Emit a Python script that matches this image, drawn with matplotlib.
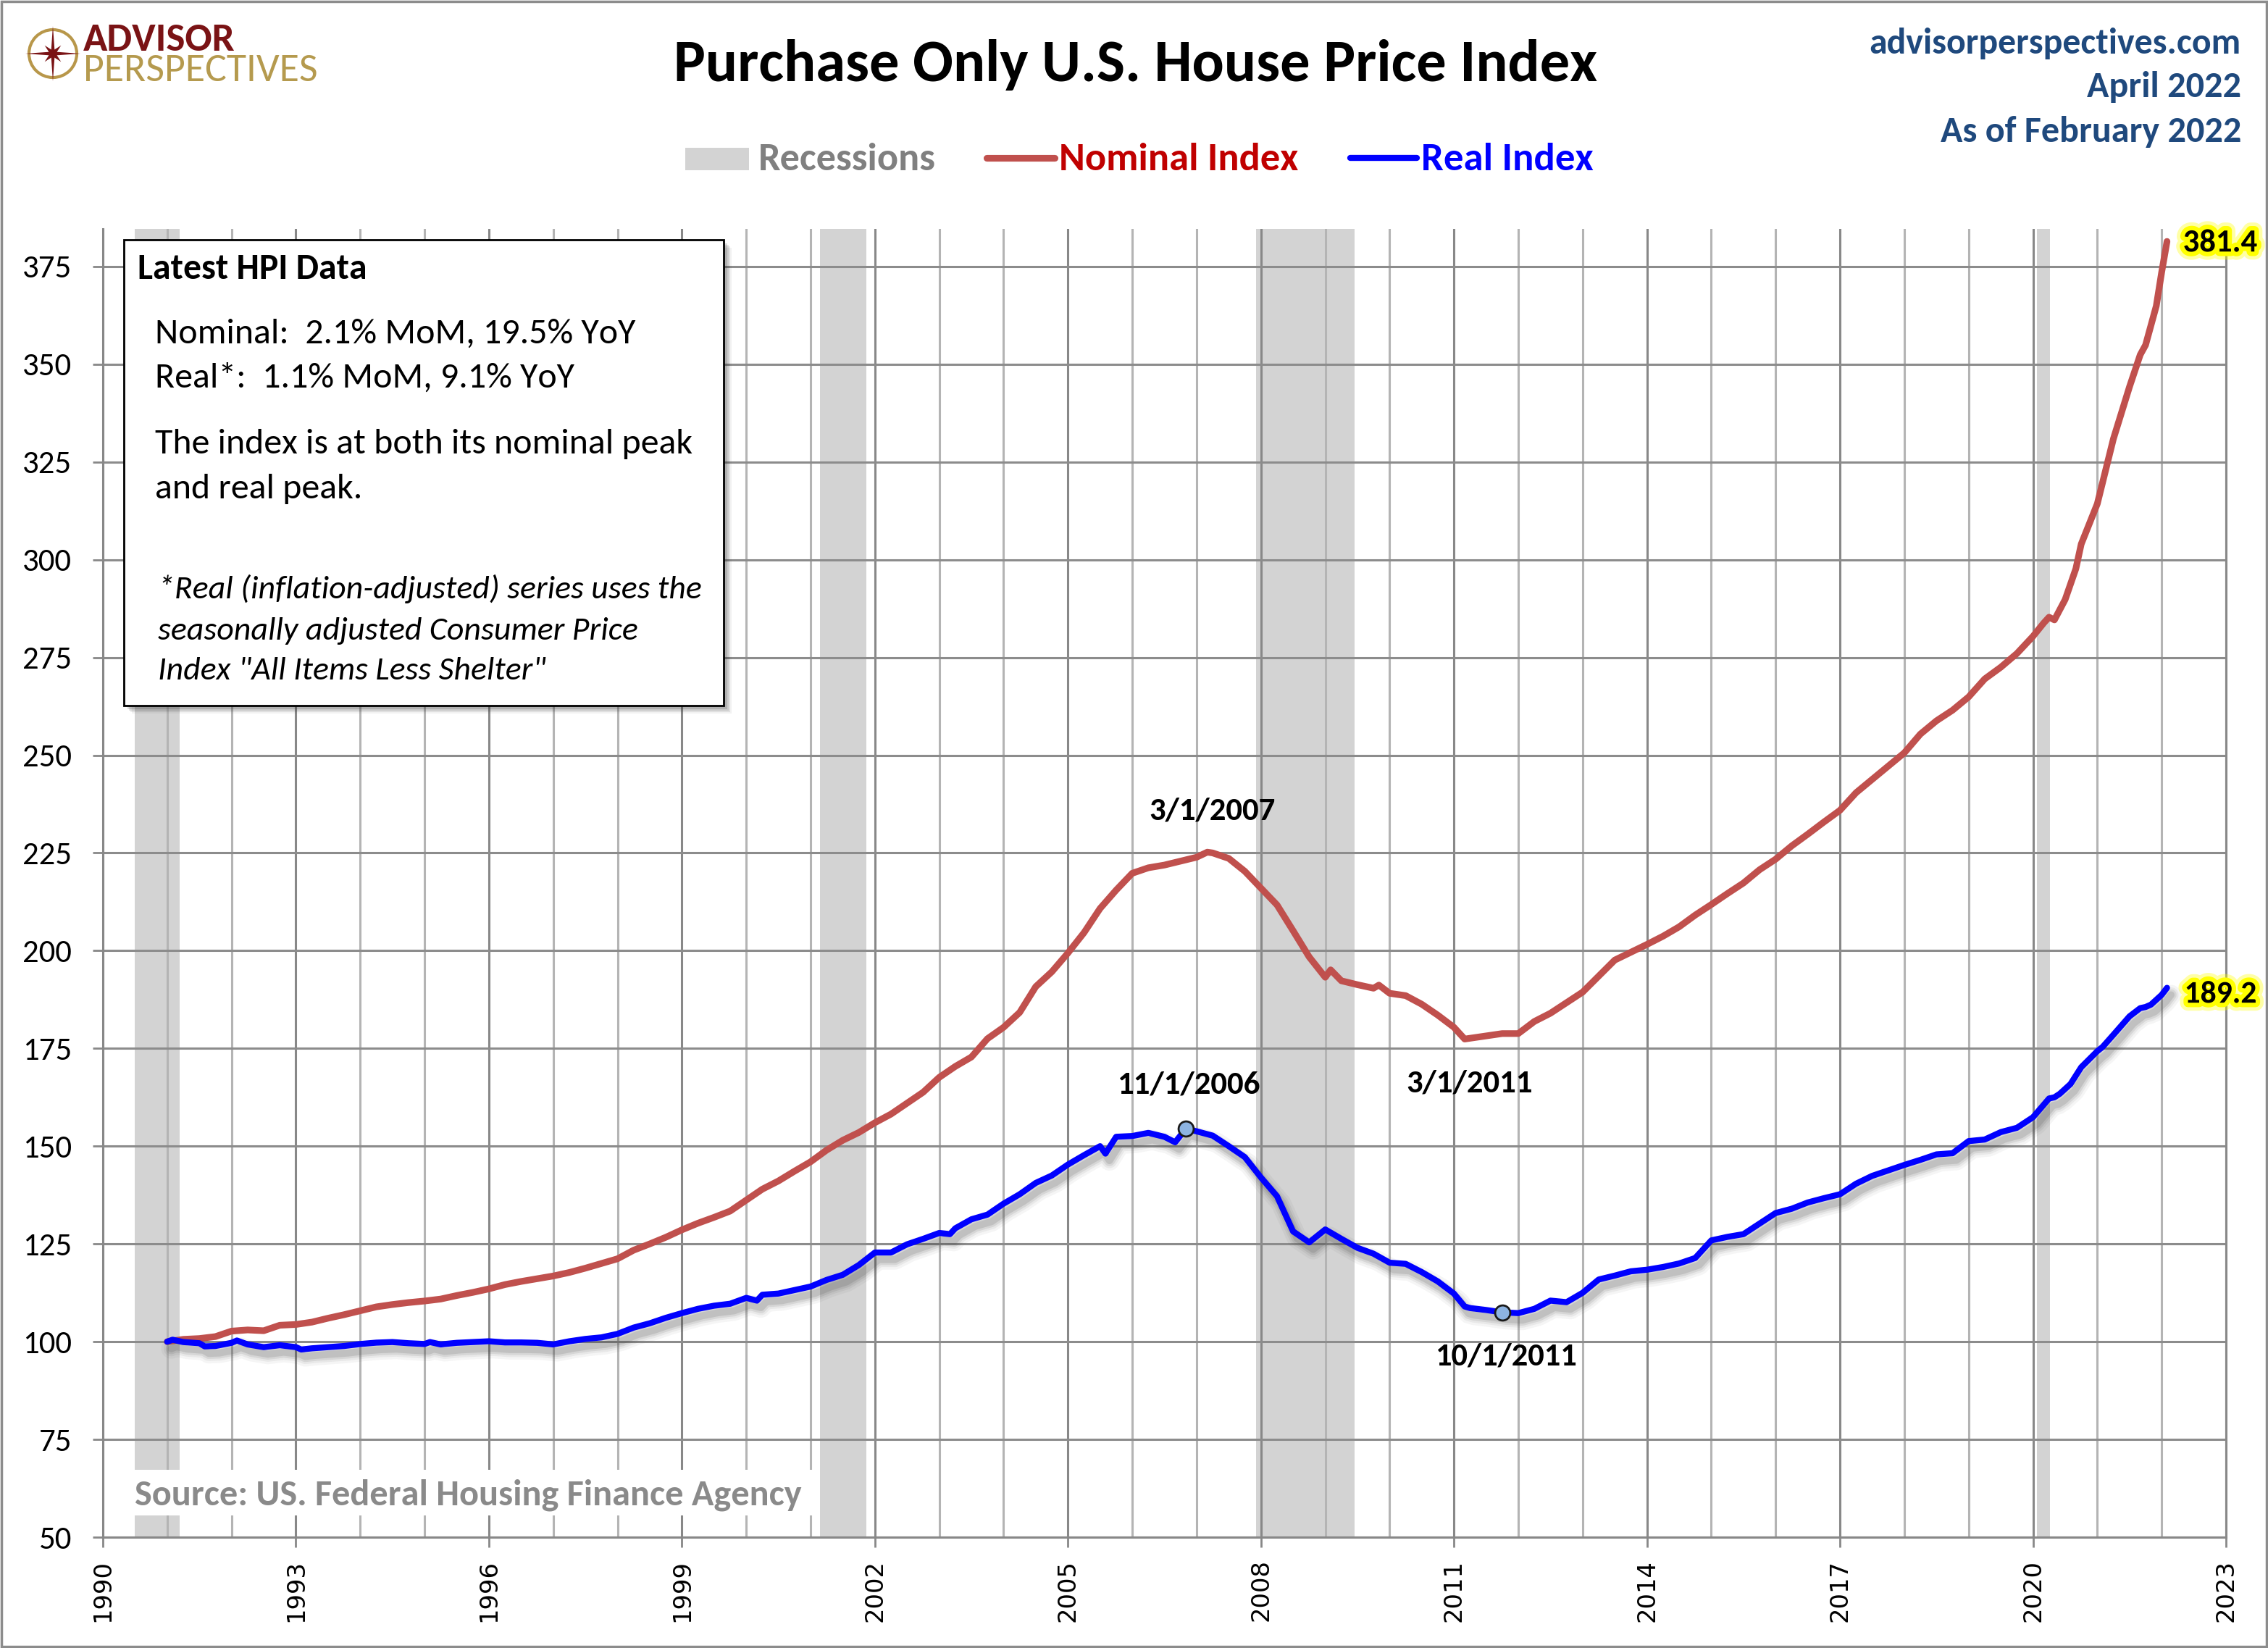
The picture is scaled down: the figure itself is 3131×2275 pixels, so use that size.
import matplotlib
matplotlib.use('Agg')
import matplotlib.pyplot as plt
from matplotlib import font_manager as fm
import matplotlib.patheffects as pe
from matplotlib.patches import Rectangle, Polygon, Ellipse
from matplotlib.lines import Line2D
import numpy as np

# ---------------- data ----------------
nominal_dates = ["1991-01","1991-04","1991-07","1991-10","1992-01","1992-04","1992-07","1992-10",
    "1993-01","1993-04","1993-07","1993-10","1994-01","1994-04","1994-07","1994-10",
    "1995-01","1995-04","1995-07","1995-10","1996-01","1996-04","1996-07","1996-10",
    "1997-01","1997-04","1997-07","1997-10","1998-01","1998-04","1998-07","1998-10",
    "1999-01","1999-04","1999-07","1999-10","2000-01","2000-04","2000-07","2000-10",
    "2001-01","2001-04","2001-07","2001-10","2002-01","2002-04","2002-07","2002-10",
    "2003-01","2003-04","2003-07","2003-10","2004-01","2004-04","2004-07","2004-10",
    "2005-01","2005-04","2005-07","2005-10","2006-01","2006-04","2006-07","2006-10",
    "2007-01","2007-03","2007-04","2007-07","2007-10","2008-01","2008-04","2008-07","2008-10",
    "2009-01","2009-02","2009-04","2009-07","2009-10","2009-11","2010-01","2010-04","2010-07","2010-10",
    "2011-01","2011-03","2011-04","2011-07","2011-10","2012-01","2012-04","2012-07","2012-10",
    "2013-01","2013-04","2013-07","2013-10","2014-01","2014-04","2014-07","2014-10",
    "2015-01","2015-04","2015-07","2015-10","2016-01","2016-04","2016-07","2016-10",
    "2017-01","2017-04","2017-07","2017-10","2018-01","2018-04","2018-07","2018-10",
    "2019-01","2019-04","2019-07","2019-10","2020-01","2020-03","2020-04","2020-05","2020-07",
    "2020-09","2020-10","2021-01","2021-04","2021-07","2021-09","2021-10","2021-12","2022-01","2022-02"]
nominal_values = [100.0,100.6,100.8,101.3,102.7,103.0,102.8,104.2,
    104.4,105.0,106.0,106.9,107.9,108.9,109.5,110.0,
    110.4,110.9,111.8,112.6,113.5,114.6,115.4,116.1,
    116.8,117.7,118.8,120.0,121.2,123.4,125.0,126.7,
    128.6,130.3,131.8,133.4,136.2,139.0,141.1,143.6,
    146.0,149.0,151.5,153.5,156.0,158.2,161.0,163.8,
    167.6,170.4,172.8,177.5,180.4,184.2,190.8,194.6,
    199.4,204.6,210.8,215.5,219.8,221.2,221.9,222.9,
    223.9,225.2,225.0,223.6,220.3,216.0,211.7,205.1,198.4,
    193.2,195.1,192.3,191.3,190.4,191.2,189.1,188.5,186.3,183.5,
    180.4,177.4,177.6,178.2,178.8,178.8,181.9,184.0,186.7,
    189.4,193.5,197.6,199.6,201.6,203.7,206.1,209.1,
    211.8,214.6,217.3,220.7,223.4,226.8,229.8,232.9,
    235.9,240.4,243.8,247.2,250.6,255.4,258.8,261.5,
    264.9,269.5,272.5,276.0,280.4,283.8,285.3,284.6,289.8,
    297.7,304.0,314.3,330.9,344.2,352.4,354.9,364.9,373.5,381.4]

real_dates = ["1991-01","1991-02","1991-04","1991-07","1991-08","1991-10","1992-01","1992-02","1992-04",
    "1992-07","1992-10","1993-01","1993-02","1993-04","1993-07","1993-10","1994-01","1994-04",
    "1994-07","1994-10","1995-01","1995-02","1995-04","1995-07","1995-10","1996-01","1996-04",
    "1996-07","1996-10","1997-01","1997-04","1997-07","1997-10","1998-01","1998-04","1998-07",
    "1998-10","1999-01","1999-04","1999-07","1999-10","2000-01","2000-03","2000-04","2000-07",
    "2000-10","2001-01","2001-04","2001-07","2001-10","2002-01","2002-04","2002-07","2002-10",
    "2003-01","2003-03","2003-04","2003-07","2003-10","2004-01","2004-04","2004-07","2004-10",
    "2005-01","2005-04","2005-07","2005-08","2005-10","2006-01","2006-04","2006-07","2006-09",
    "2006-11","2007-01","2007-04","2007-07","2007-10","2008-01","2008-04","2008-07","2008-10",
    "2009-01","2009-04","2009-07","2009-10","2010-01","2010-04","2010-07","2010-10","2011-01",
    "2011-03","2011-04","2011-07","2011-10","2012-01","2012-04","2012-07","2012-10","2013-01",
    "2013-04","2013-07","2013-10","2014-01","2014-04","2014-07","2014-10","2015-01","2015-04",
    "2015-07","2015-10","2016-01","2016-04","2016-07","2016-10","2017-01","2017-04","2017-07",
    "2017-10","2018-01","2018-04","2018-07","2018-10","2019-01","2019-04","2019-07","2019-10",
    "2020-01","2020-04","2020-05","2020-06","2020-08","2020-10","2021-01","2021-02","2021-04",
    "2021-07","2021-09","2021-10","2021-11","2022-01","2022-02"]
real_values = [100.0,100.5,99.9,99.6,98.8,98.9,99.7,100.3,99.3,
    98.6,99.1,98.6,98.0,98.3,98.6,98.9,99.4,99.75,
    99.9,99.6,99.4,99.9,99.3,99.7,99.9,100.1,99.8,
    99.8,99.7,99.3,100.1,100.7,101.1,102.0,103.6,104.7,
    106.1,107.3,108.4,109.2,109.7,111.2,110.5,112.0,112.3,
    113.2,114.1,115.8,117.1,119.6,122.8,122.8,124.9,126.3,
    127.8,127.5,129.0,131.3,132.5,135.3,137.7,140.6,142.5,
    145.3,147.7,150.0,148.1,152.4,152.6,153.4,152.4,151.0,
    154.5,153.8,152.7,150.0,147.2,142.0,137.2,128.2,125.4,
    128.7,126.3,124.0,122.5,120.2,119.9,117.8,115.4,112.3,
    109.0,108.6,108.1,107.5,107.3,108.4,110.5,110.1,112.5,
    115.9,116.9,118.0,118.4,119.1,120.0,121.4,125.9,126.8,
    127.5,130.2,132.9,134.0,135.6,136.7,137.7,140.4,142.4,
    143.8,145.2,146.5,147.9,148.2,151.3,151.7,153.6,154.7,
    157.4,162.2,162.5,163.4,165.9,170.2,174.3,175.4,178.5,
    183.2,185.3,185.6,186.2,188.7,190.5]

recession_starts = [1990.49, 2001.15, 2007.92, 2020.06]
recession_ends = [1991.19, 2001.87, 2009.45, 2020.26]

y_ticks = list(range(50, 376, 25))
x_major = list(range(1990, 2024, 3))
x_minor = list(range(1990, 2024))

title = "Purchase Only U.S. House Price Index"
latest_label_nom = "381.4"
latest_label_real = "189.2"

def to_year(d):
    y, m = d.split("-")
    return int(y) + (int(m) - 1) / 12.0

xn = np.array([to_year(d) for d in nominal_dates])
yn = np.array(nominal_values)
xr = np.array([to_year(d) for d in real_dates])
yr = np.array(real_values)

# ---------------- fonts ----------------
names = {f.name for f in fm.fontManager.ttflist}
def pick(*c):
    for n in c:
        if n in names:
            return n
    return 'DejaVu Sans'
SANS = pick('Carlito', 'Lato', 'Open Sans')

W, H = 3131, 2275
fig = plt.figure(figsize=(W / 100, H / 100), dpi=100)
fig.patch.set_facecolor('white')
renderer = fig.canvas.get_renderer()

def fit(t, width):
    bb = t.get_window_extent(renderer)
    t.set_fontsize(t.get_fontsize() * width / bb.width)
    return t.get_fontsize()

def ftext(x, y, s, width=None, **kw):
    kw.setdefault('family', SANS)
    t = fig.text(x / W, 1 - y / H, s, **kw)
    if width:
        fit(t, width)
    return t

# ---------------- axes ----------------
L, R, T, B = 142, 3073, 316, 2122
ax = fig.add_axes([L / W, 1 - B / H, (R - L) / W, (B - T) / H])
ax.set_xlim(1990, 2023)
ax.set_ylim(50, 384.6)
ax.set_axisbelow(True)

for s, e in zip(recession_starts, recession_ends):
    ax.axvspan(s, e, color='#D3D3D3', lw=0, zorder=0.2)

ax.set_xticks(x_major)
ax.set_xticks(x_minor, minor=True)
ax.set_yticks(y_ticks)
ax.grid(which='major', axis='x', color='#888888', lw=2.2)
ax.grid(which='minor', axis='x', color='#B4B4B4', lw=2.2)
ax.grid(which='major', axis='y', color='#8C8C8C', lw=2.2)
ax.spines['top'].set_visible(False)
for side in ['left', 'right', 'bottom']:
    ax.spines[side].set_color('#888888')
    ax.spines[side].set_linewidth(2.2)

tmp = fig.text(0, 0, "375", family=SANS, fontsize=30)
yfs = fit(tmp, 68)
tmp.remove()
tmp = fig.text(0, 0, "1990", family='DejaVu Sans', fontsize=24)
xfs = fit(tmp, 86)
tmp.remove()

ax.tick_params(axis='x', which='major', length=10, width=2, color='#888888', pad=12,
               labelrotation=90, labelsize=xfs)
ax.tick_params(axis='x', which='minor', length=0)
ax.tick_params(axis='y', length=10, width=2, color='#888888', pad=21, labelsize=yfs)
ax.set_xticklabels([str(v) for v in x_major], family='DejaVu Sans')
ax.set_yticklabels([str(v) for v in y_ticks], family=SANS)

# lines
ax.plot(xn, yn, color='#C0504D', lw=6.6, zorder=3, solid_capstyle='round', solid_joinstyle='round')
shadow = [pe.SimpleLineShadow(offset=(4, -7), shadow_color='#404040', alpha=a, linewidth=w)
          for w, a in [(20, 0.05), (15, 0.07), (11, 0.1), (7, 0.14)]]
ax.plot(xr, yr, color='#0000FF', lw=6.0, zorder=3, solid_capstyle='round', solid_joinstyle='round',
        path_effects=shadow + [pe.Normal()])

# markers at real peak / trough
ip = real_dates.index("2006-11")
it = real_dates.index("2011-10")
ax.plot([xr[ip], xr[it]], [yr[ip], yr[it]], 'o', ms=15, mfc='#8DB4E2', mec='#1A1A1A', mew=2, zorder=4)

inp = nominal_dates.index("2007-03")
intr = nominal_dates.index("2011-03")

def ann(s, x, y, dx, dy, width):
    t = ax.annotate(s, xy=(x, y), xytext=(dx, dy), textcoords='offset pixels', ha='center',
                    va='center', fontweight='bold', family=SANS, fontsize=26, zorder=6)
    fit(t, width)
    return t

ann("3/1/2007", xn[inp], yn[inp], 7, 57, 175)
ann("11/1/2006", xr[ip], yr[ip], 4, 60, 198)
ann("3/1/2011", xn[intr], yn[intr], 7, -61, 175)
ann("10/1/2011", xr[it], yr[it], 5, -61, 196)

glow = [pe.Stroke(linewidth=16, foreground='#FFFF00', alpha=0.35),
        pe.Stroke(linewidth=9, foreground='#FFFF00'), pe.Normal()]
t = ax.annotate(latest_label_nom, xy=(xn[-1], yn[-1]), xytext=(22, -2), textcoords='offset pixels',
                ha='left', va='center', fontweight='bold', family=SANS, fontsize=24, zorder=6,
                path_effects=glow, annotation_clip=False)
fit(t, 103)
t = ax.annotate(latest_label_real, xy=(xr[-1], yr[-1]), xytext=(24, -9), textcoords='offset pixels',
                ha='left', va='center', fontweight='bold', family=SANS, fontsize=24, zorder=6,
                path_effects=glow, annotation_clip=False)
fit(t, 100)

# ---------------- source box ----------------
fig.patches.append(Rectangle((146 / W, 1 - 2092 / H), (1124 - 146) / W, (2092 - 2029) / H,
                             transform=fig.transFigure, fc='white', ec='none', zorder=1))
ftext(186, 2077, "Source: US. Federal Housing Finance Agency", width=920, color='#8A8A8A',
      fontweight='bold', va='baseline', zorder=3)

# ---------------- info box ----------------
bx0, by0, bx1, by1 = 171, 331, 999, 974
for k, a in [(11, 0.06), (9, 0.09), (7, 0.12), (5, 0.16)]:
    fig.patches.append(Rectangle(((bx0 + k) / W, 1 - (by1 + k) / H), (bx1 - bx0) / W, (by1 - by0) / H,
                                 transform=fig.transFigure, fc='#303030', ec='none', alpha=a, zorder=1))
fig.patches.append(Rectangle((bx0 / W, 1 - by1 / H), (bx1 - bx0) / W, (by1 - by0) / H,
                             transform=fig.transFigure, fc='white', ec='black', lw=2, zorder=1.5))
ftext(190, 385, "Latest HPI Data", width=315, fontweight='bold', va='baseline', zorder=3)
t = ftext(214, 626, "The index is at both its nominal peak", width=747, va='baseline', zorder=3)
rfs = t.get_fontsize()
ftext(214, 474, "Nominal:  2.1% MoM, 19.5% YoY", fontsize=rfs, va='baseline', zorder=3)
ftext(214, 535, "Real*:  1.1% MoM, 9.1% YoY", fontsize=rfs, va='baseline', zorder=3)
ftext(214, 688, "and real peak.", fontsize=rfs, va='baseline', zorder=3)
t = ftext(218, 826, "*Real (inflation-adjusted) series uses the", width=748, style='italic',
          va='baseline', zorder=3)
ifs = t.get_fontsize()
ftext(218, 883, "seasonally adjusted Consumer Price", fontsize=ifs, style='italic', va='baseline', zorder=3)
ftext(218, 938, 'Index "All Items Less Shelter"', fontsize=ifs, style='italic', va='baseline', zorder=3)

# ---------------- title & header ----------------
ftext(1568, 112, title, width=1276, fontweight='bold', ha='center', va='baseline', color='black')
blue_hdr = '#1F497D'
ftext(3094, 74, "advisorperspectives.com", width=514, fontweight='bold', ha='right', va='baseline',
      color=blue_hdr)
t = ftext(3094, 196, "As of February 2022", width=414, fontweight='bold', ha='right', va='baseline',
          color=blue_hdr)
hfs = t.get_fontsize()
ftext(3094, 134, "April 2022", fontsize=hfs, fontweight='bold', ha='right', va='baseline', color=blue_hdr)

# ---------------- legend ----------------
fig.patches.append(Rectangle((946 / W, 1 - 235 / H), 88 / W, 31 / H, transform=fig.transFigure,
                             fc='#D3D3D3', ec='none', zorder=1))
ftext(1047, 235, "Recessions", width=244, fontweight='bold', color='#808080', va='baseline')
fig.lines.append(Line2D([1362 / W, 1456 / W], [1 - 218 / H] * 2, transform=fig.transFigure,
                        color='#C0504D', lw=6.6, solid_capstyle='round'))
ftext(1462, 235, "Nominal Index", width=331, fontweight='bold', color='#C00000', va='baseline')
fig.lines.append(Line2D([1864 / W, 1956 / W], [1 - 218 / H] * 2, transform=fig.transFigure,
                        color='#0000FF', lw=6.0, solid_capstyle='round'))
ftext(1962, 235, "Real Index", width=237, fontweight='bold', color='#0000FF', va='baseline')

# ---------------- logo ----------------
cx, cy = 73, 74
fig.patches.append(Ellipse((cx / W, 1 - cy / H), 66 / W, 66 / H, transform=fig.transFigure,
                           fill=False, ec='#B8974A', lw=3, zorder=1))
pts = []
for i in range(16):
    ang = np.deg2rad(90 - i * 22.5)
    if i % 2 == 0:
        r = 38 if (i // 2) % 2 == 0 else 16
    else:
        r = 6
    pts.append(((cx + r * np.cos(ang)) / W, 1 - (cy - r * np.sin(ang)) / H))
fig.patches.append(Polygon(pts, closed=True, transform=fig.transFigure, fc='#7A1315', ec='none', zorder=2))
ftext(115, 70, "ADVISOR", width=210, fontweight='bold', color='#7A1315', va='baseline')
ftext(115, 112, "PERSPECTIVES", width=324, color='#B59A4E', va='baseline')

# border
fig.patches.append(Rectangle((2 / W, 2 / H), 1 - 4 / W, 1 - 4 / H, transform=fig.transFigure,
                             fill=False, ec='#8C8C8C', lw=2.5, zorder=5))

fig.savefig('out.png', dpi=100)
